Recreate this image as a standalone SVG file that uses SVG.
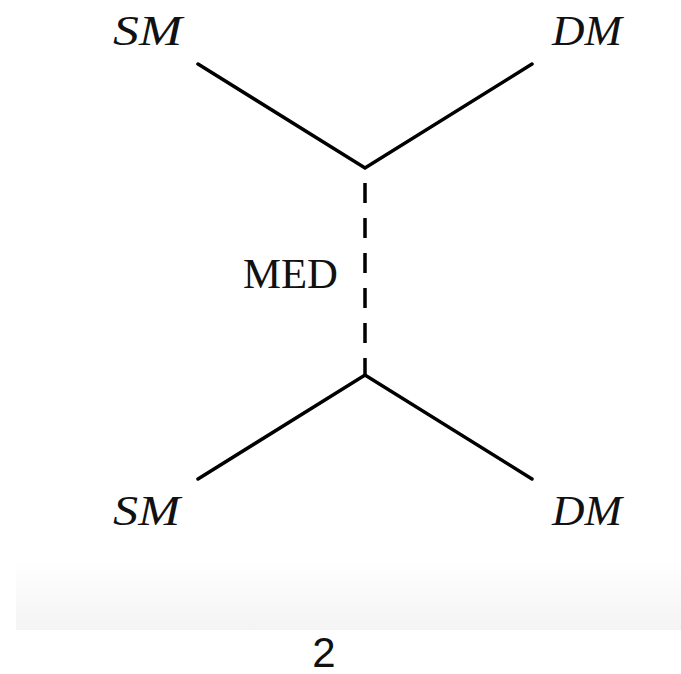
<svg xmlns="http://www.w3.org/2000/svg" width="681" height="674" viewBox="0 0 681 674">
  <defs>
    <linearGradient id="band" x1="0" y1="0" x2="0" y2="1">
      <stop offset="0" stop-color="#ffffff"/>
      <stop offset="1" stop-color="#f4f4f4"/>
    </linearGradient>
    <style>
      .leg { stroke: #000; stroke-width: 3.5; fill: none; stroke-linecap: round; stroke-linejoin: miter; }
      .med { stroke: #000; stroke-width: 3.5; fill: none; stroke-dasharray: 20 15; stroke-dashoffset: 20; }
      .lbl { font-family: "Liberation Serif", "DejaVu Serif", serif; font-size: 42px; fill: #111; }
      .it { font-style: italic; }
      .page { font-family: "Liberation Sans", "DejaVu Sans", sans-serif; font-size: 42px; fill: #111; font-weight: 300; }
    </style>
  </defs>
  <rect width="681" height="674" fill="#ffffff"/>
  <rect x="16" y="560" width="665" height="70" fill="url(#band)"/>

  <g id="connectors">
    <polyline class="leg" points="198,64 365,168 532,64"/>
    <line class="med" x1="365" y1="168" x2="365" y2="375"/>
    <polyline class="leg" points="198,479 365,375 532,479"/>
  </g>

  <g id="sm-top"><text class="lbl it" x="113" y="45" textLength="69" lengthAdjust="spacingAndGlyphs">SM</text></g>
  <g id="dm-top"><text class="lbl it" x="552" y="45" textLength="70" lengthAdjust="spacingAndGlyphs">DM</text></g>
  <g id="med-label"><text class="lbl" x="243" y="288" font-size="40" textLength="95" lengthAdjust="spacingAndGlyphs">MED</text></g>
  <g id="sm-bottom"><text class="lbl it" x="113" y="525" textLength="67" lengthAdjust="spacingAndGlyphs">SM</text></g>
  <g id="dm-bottom"><text class="lbl it" x="552" y="525" textLength="70" lengthAdjust="spacingAndGlyphs">DM</text></g>

  <text class="page" x="324" y="667" text-anchor="middle">2</text>
</svg>
